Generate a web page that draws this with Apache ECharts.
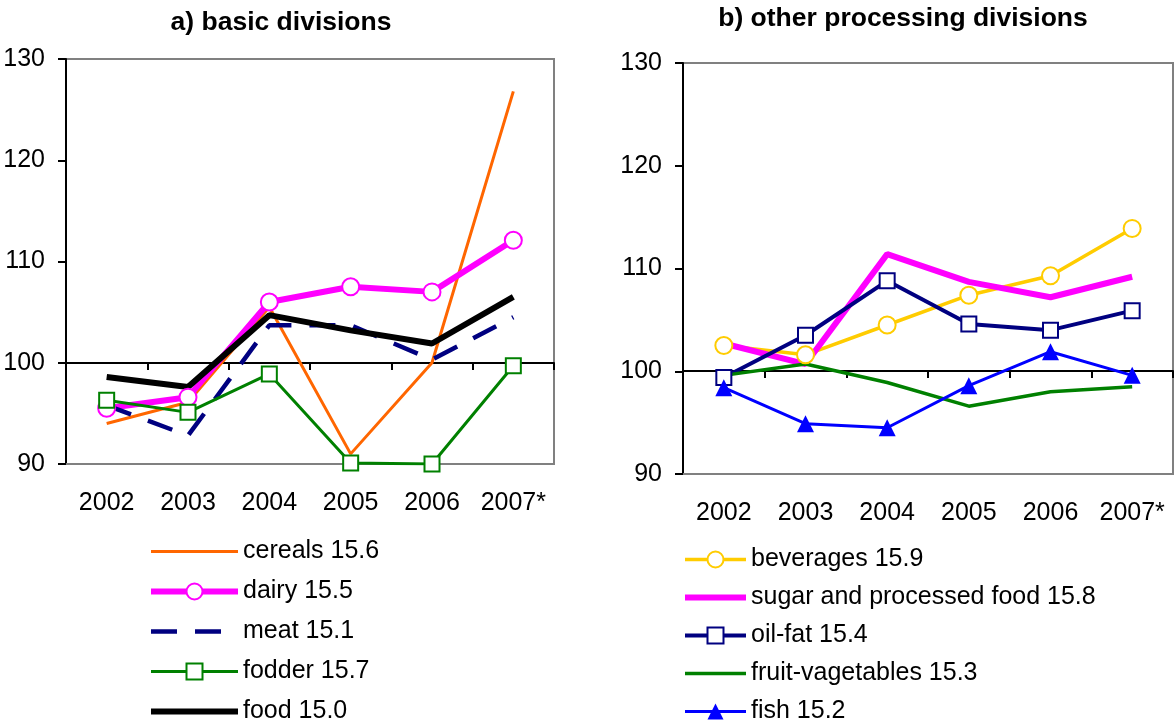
<!DOCTYPE html>
<html>
<head>
<meta charset="utf-8">
<script src="https://cdn.jsdelivr.net/npm/echarts@6/dist/echarts.min.js"></script>
<style>
  html, body { margin: 0; padding: 0; background: #fff; }
  #chart { width: 1174px; height: 724px; }
</style>
</head>
<body>
<div id="chart"></div>
<script>
// years on the x axis
var years = ['2002', '2003', '2004', '2005', '2006', '2007*'];

// a) basic divisions
var cereals = [94.0, 96.1, 105.5, 91.0, 100.0, 126.8];
var dairy = [95.5, 96.6, 106.0, 107.5, 107.0, 112.1];
var meat = [95.8, 92.8, 103.7, 103.7, 100.3, 104.5];
var fodder = [96.3, 95.1, 98.9, 90.1, 90.0, 99.7];
var food = [98.6, 97.6, 104.7, 103.2, 101.9, 106.5];

// b) other processing divisions
var beverages = [102.5, 101.6, 104.5, 107.4, 109.3, 113.9];
var sugar = [102.7, 100.7, 111.4, 108.7, 107.2, 109.2];
var oilFat = [99.4, 103.5, 108.8, 104.6, 104.0, 105.9];
var fruitVeg = [99.6, 100.7, 98.9, 96.6, 98.0, 98.5];
var fish = [98.4, 94.9, 94.5, 98.6, 101.9, 99.6];

var yTicks = { min: 90, max: 130, interval: 10 };

var FONT = '"Liberation Sans", Arial, sans-serif';

var myChart = echarts.init(document.getElementById('chart'));

function yAxisCfg(grid) {
  return {
    type: 'value',
    gridIndex: grid,
    min: yTicks.min,
    max: yTicks.max,
    interval: yTicks.interval,
    splitLine: { show: false },
    axisLine: { show: true, lineStyle: { color: '#000', width: 2 } },
    axisTick: { show: true, length: 8, lineStyle: { color: '#000', width: 2 } },
    axisLabel: { color: '#000', fontSize: 25, fontFamily: FONT, margin: 21 }
  };
}

function xLabelAxis(grid) {
  return {
    type: 'category',
    gridIndex: grid,
    data: years,
    axisLine: { show: true, lineStyle: { color: '#808080', width: 2 } },
    axisTick: { show: false },
    axisLabel: { color: '#000', fontSize: 25, fontFamily: FONT, margin: 27, interval: 0, hideOverlap: false }
  };
}

// axis drawn on the 100 line, with the ticks between years
function xBaseAxis(grid, off) {
  return {
    type: 'category',
    gridIndex: grid,
    data: years,
    position: 'bottom',
    offset: off,
    axisLine: { show: true, lineStyle: { color: '#000', width: 2 } },
    axisTick: { show: true, length: 7, interval: 0, lineStyle: { color: '#000', width: 2 } },
    axisLabel: { show: false }
  };
}

function lineSeries(name, data, grid, color, width, extra) {
  var s = {
    name: name,
    type: 'line',
    xAxisIndex: grid * 2,
    yAxisIndex: grid,
    data: data,
    symbol: 'none',
    lineStyle: { color: color, width: width },
    itemStyle: { color: color },
    z: 3
  };
  for (var k in extra) {
    s[k] = extra[k];
  }
  return s;
}

// legend entries without a marker
function plain(name) {
  return { name: name, itemStyle: { opacity: 0 } };
}

var legendText = { fontSize: 25, fontFamily: FONT, color: '#000' };

var option = {
  backgroundColor: '#fff',
  animation: false,
  title: [{
    text: 'a) basic divisions',
    left: 276,
    top: 4,
    textAlign: 'center',
    textStyle: { fontSize: 26.5, fontWeight: 'bold', fontFamily: FONT, color: '#000' }
  }, {
    text: 'b) other processing divisions',
    left: 898,
    top: 0,
    textAlign: 'center',
    textStyle: { fontSize: 26.5, fontWeight: 'bold', fontFamily: FONT, color: '#000' }
  }],
  legend: [{
    orient: 'vertical',
    left: 148,
    top: 539,
    height: 240,
    padding: 0,
    itemWidth: 87,
    itemHeight: 20,
    itemGap: 15,
    lineStyle: { width: 'inherit' },
    textStyle: legendText,
    data: [plain('cereals 15.6'), 'dairy 15.5', plain('meat 15.1'), 'fodder 15.7', plain('food 15.0')]
  }, {
    orient: 'vertical',
    left: 682,
    top: 547,
    height: 240,
    padding: 0,
    itemWidth: 61,
    itemHeight: 20,
    itemGap: 13,
    lineStyle: { width: 'inherit' },
    textStyle: legendText,
    data: ['beverages 15.9', plain('sugar and processed food 15.8'), 'oil-fat 15.4', plain('fruit-vagetables 15.3'), 'fish 15.2']
  }],
  grid: [
    { left: 66, top: 59, width: 488, height: 405, show: true, borderColor: '#808080', borderWidth: 2, backgroundColor: '#fff' },
    { left: 683, top: 63, width: 490, height: 411, show: true, borderColor: '#808080', borderWidth: 2, backgroundColor: '#fff' }
  ],
  xAxis: [
    xLabelAxis(0), xBaseAxis(0, -101),
    xLabelAxis(1), xBaseAxis(1, -103)
  ],
  yAxis: [yAxisCfg(0), yAxisCfg(1)],
  series: [
    lineSeries('cereals 15.6', cereals, 0, '#FF6600', 3, {}),
    lineSeries('dairy 15.5', dairy, 0, '#FF00FF', 6, {
      symbol: 'emptyCircle', symbolSize: 17, itemStyle: { color: '#FF00FF', borderWidth: 2 }
    }),
    lineSeries('meat 15.1', meat, 0, '#000080', 4, {
      lineStyle: { color: '#000080', width: 4.5, type: [26, 18] }
    }),
    lineSeries('fodder 15.7', fodder, 0, '#008000', 3, {
      symbol: 'emptyRect', symbolSize: 15, itemStyle: { color: '#008000', borderWidth: 2 }
    }),
    lineSeries('food 15.0', food, 0, '#000000', 6, {}),

    lineSeries('beverages 15.9', beverages, 1, '#FFCC00', 3.5, {
      symbol: 'emptyCircle', symbolSize: 17, itemStyle: { color: '#FFCC00', borderWidth: 2 }
    }),
    lineSeries('sugar and processed food 15.8', sugar, 1, '#FF00FF', 6, {}),
    lineSeries('oil-fat 15.4', oilFat, 1, '#000080', 4, {
      symbol: 'emptyRect', symbolSize: 15, itemStyle: { color: '#000080', borderWidth: 2 }
    }),
    lineSeries('fruit-vagetables 15.3', fruitVeg, 1, '#008000', 3.5, {}),
    lineSeries('fish 15.2', fish, 1, '#0000FF', 3, {
      symbol: 'triangle', symbolSize: 17, itemStyle: { color: '#0000FF' }
    })
  ]
};

myChart.setOption(option, true);
</script>
</body>
</html>
